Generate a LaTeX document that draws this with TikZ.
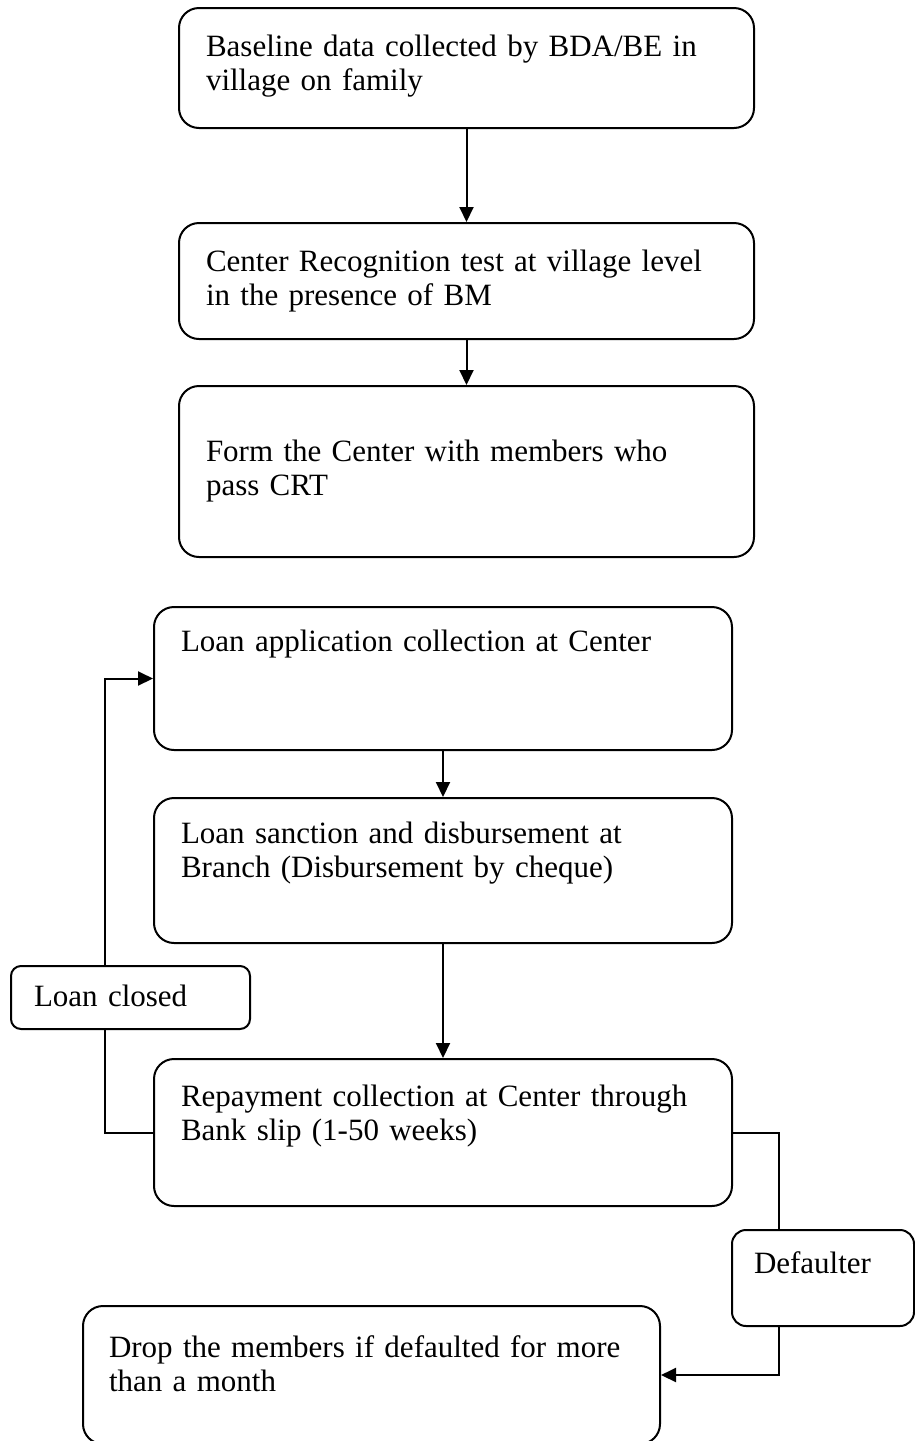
\documentclass[tikz,border=0pt]{standalone}
\usepackage{fontspec}
\setmainfont{Liberation Serif}
\usepackage{tikz}
\usetikzlibrary{arrows.meta}

\begin{document}
\begin{tikzpicture}[x=0.5pt,y=-0.5pt,>={Triangle[length=7.5pt,width=7pt]},
  flow/.style={draw,line width=1pt,rounded corners=10pt,anchor=north west,
    align=left,inner ysep=0pt,inner xsep=13.5pt,
    font=\fontsize{15.5}{17}\selectfont},
  small/.style={flow,rounded corners=5pt,inner xsep=11.5pt},
  link/.style={line width=1pt}]
  \useasboundingbox (0,0) rectangle (915,1441);
  \node[flow,text width=260.5pt,text height=24pt,text depth=36pt] (collect) at (178,7)
    {Baseline data collected by BDA/BE in\\village on family};
  \node[flow,text width=260.5pt,text height=24pt,text depth=34pt] (crt) at (178,222)
    {Center Recognition test at village level\\in the presence of BM};
  \node[flow,text width=260.5pt,text height=37.5pt,text depth=48pt] (form) at (178,385)
    {Form the Center with members who\\pass CRT};
  \node[flow,text width=262pt,text height=22pt,text depth=49.5pt] (apply) at (153,606)
    {Loan application collection at Center};
  \node[flow,text width=262pt,text height=22.5pt,text depth=50pt] (sanction) at (153,797)
    {Loan sanction and disbursement at\\Branch (Disbursement by cheque)};
  \node[flow,text width=262pt,text height=23.5pt,text depth=50pt] (repay) at (153,1058)
    {Repayment collection at Center through\\Bank slip (1-50 weeks)};
  \node[small,text width=96.5pt,text height=20pt,text depth=11.5pt] (closed) at (10,965)
    {Loan closed};
  \node[small,rounded corners=7pt,inner xsep=11pt,text width=69pt,text height=21.5pt,text depth=26.5pt] (defaulter) at (731,1229)
    {Defaulter};
  \node[flow,inner xsep=13pt,text width=262.5pt,text height=25.5pt,text depth=43.5pt] (drop) at (82,1305)
    {Drop the members if defaulted for more\\than a month};
  \coordinate (loopx) at (105,0);
  \coordinate (defx) at (779,0);
  \draw[link,->] (collect.south) -- (crt.north);
  \draw[link,->] (crt.south) -- (form.north);
  \draw[link,->] (apply.south) -- (sanction.north);
  \draw[link,->] (sanction.south) -- (repay.north);
  \draw[link] (repay.west) -| (loopx |- closed.south);
  \draw[link,->] (loopx |- closed.north) |- (apply.west);
  \draw[link] (repay.east) -| (defx |- defaulter.north);
  \draw[link,->] (defx |- defaulter.south) |- (drop.east);
\end{tikzpicture}
\end{document}
